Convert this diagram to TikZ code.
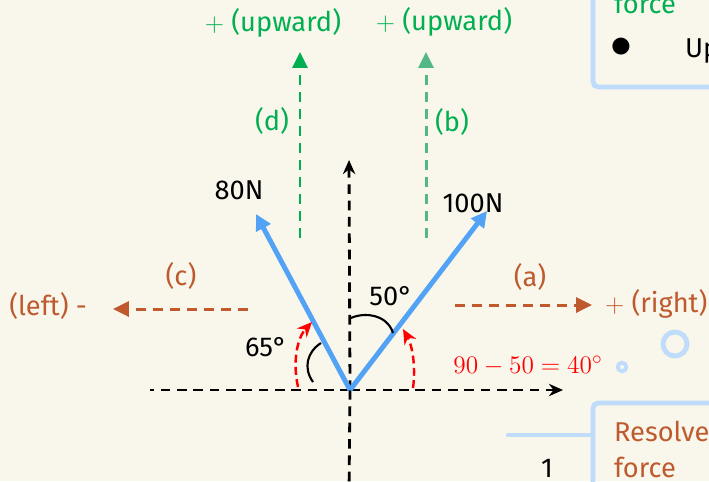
\documentclass[tikz,border=0pt]{standalone}
\usepackage[no-math]{fontspec}
\setmainfont{Fira Sans}
\usetikzlibrary{arrows.meta,positioning}
\definecolor{bgcream}{RGB}{249,246,236}
\definecolor{forceblue}{RGB}{82,163,245}
\definecolor{compbrown}{RGB}{190,90,45}
\definecolor{compgreen}{RGB}{0,176,80}
\definecolor{compteal}{RGB}{82,184,134}
\definecolor{boxblue}{RGB}{191,220,250}
\tikzset{
  axisline/.style={-{Stealth[length=8pt,width=7pt]}, line width=1.6pt, dash pattern=on 5.5pt off 3.8pt},
  forceline/.style={-{Triangle[length=9pt,width=9pt]}, line width=2.8pt, forceblue},
  compline/.style={-{Triangle[length=9pt,width=8.5pt]}, line width=1.7pt, dash pattern=on 5.5pt off 4.2pt},
  angarc/.style={line width=1.2pt},
  sweep/.style={red, -{Stealth[length=8.5pt,width=7.5pt]}, line width=1.4pt, dash pattern=on 4.5pt off 2.5pt},
  lbl/.style={font=\fontsize{15.5}{18}\selectfont, inner sep=1pt},
  panel/.style={draw=boxblue, line width=2.8pt, rounded corners=3pt},
}
\begin{document}
\begin{tikzpicture}[x=0.02cm, y=-0.02cm]
  \fill[bgcream] (0,0) rectangle (709,481);
  \useasboundingbox (0,0) rectangle (709,481);
  \clip (0,0) rectangle (709,481);
  % Axes
  \coordinate (O) at (350,390);
  \coordinate (xl) at (150,390);
  \coordinate (xr) at (563,390);
  \coordinate (yb) at (349,495);
  \coordinate (yt) at (349,160);
  \draw[axisline, -] (O) -- (xl);
  \draw[axisline] (O) -- (xr);
  \draw[axisline, -] (O) -- (yb);
  \draw[axisline] (O) -- (yt);
  % Component arrows
  \coordinate (cs) at (248,309);
  \coordinate (ce) at (113,309);
  \coordinate (as) at (455,305);
  \coordinate (ae) at (592,305);
  \coordinate (ds) at (300,238);
  \coordinate (de) at (300,52);
  \coordinate (bs) at (426,238);
  \coordinate (be) at (426,52);
  \draw[compline, compbrown] (cs) -- (ce);
  \draw[compline, compbrown] (as) -- (ae);
  \draw[compline, compgreen] (ds) -- (de);
  \draw[compline, compteal] (bs) -- (be);
  \node[lbl, text=compbrown] (clbl) at (181,276) {(c)};
  \node[lbl, text=compbrown] (albl) at (530,277) {(a)};
  \node[lbl, text=compbrown] (left) at (48,306) {(left) -};
  \node[lbl, text=compbrown, anchor=west] (right) at (603,304) {$+$ (right)};
  \node[lbl, text=compgreen] (dlbl) at (272,121) {(d)};
  \node[lbl, text=compgreen] (blbl) at (452,122) {(b)};
  \node[lbl, text=compgreen] (dup) at (273,23) {$+$ (upward)};
  \node[lbl, text=compgreen] (bup) at (444,22) {$+$ (upward)};
  % Forces
  \coordinate (F80) at (256,214);
  \coordinate (F100) at (487,211);
  \draw[forceline] (O) -- (F80);
  \draw[forceline] (O) -- (F100);
  \node[lbl] (f80) at (239,190) {80N};
  \node[lbl] (f100) at (473,203) {100N};
  % Angles
  \draw[angarc] (313,382) .. controls (303,368) and (307,352) .. (321,343);
  \draw[angarc] (351,318) .. controls (364,312) and (387,314) .. (393,333);
  \node[lbl] (a65) at (266,347) {65°};
  \node[lbl] (a50) at (391,296) {50°};
  \draw[sweep] (298,387) .. controls (292,360) and (298,337) .. (312,322);
  \draw[sweep] (413,388) .. controls (416,365) and (412,345) .. (403,329);
  \node[lbl, text=red, font=\fontsize{15}{18}\selectfont] (calc) at (528,366) {$90-50=40^\circ$};
  % Side panels
  \draw[panel] (593,-20) rectangle (740,87);
  \node[lbl, text=compgreen, anchor=base west] (ptop) at (612,13) {force};
  \node[inner sep=0pt, anchor=base] (bul) at (621,57) {\fontsize{26}{26}\selectfont\smash{$\bullet$}};
  \node[lbl, anchor=base west] (up) at (683,57) {Up};
  \draw[panel] (593,403) rectangle (740,520);
  \node[lbl, text=compbrown, anchor=base west] (res) at (612,441) {Resolve};
  \node[lbl, text=compbrown, anchor=base west] (frc) at (612,477) {force};
  \coordinate (lnk) at (508,435);
  \draw[boxblue, line width=2.4pt, line cap=round] (lnk) -- (592,435);
  \node[lbl] (one) at (547,468) {1};
  \draw[boxblue, line width=2.8pt] (675,344) circle[radius=0.24cm];
  \draw[boxblue, line width=2.2pt] (622,367) circle[radius=0.085cm];
\end{tikzpicture}
\end{document}
